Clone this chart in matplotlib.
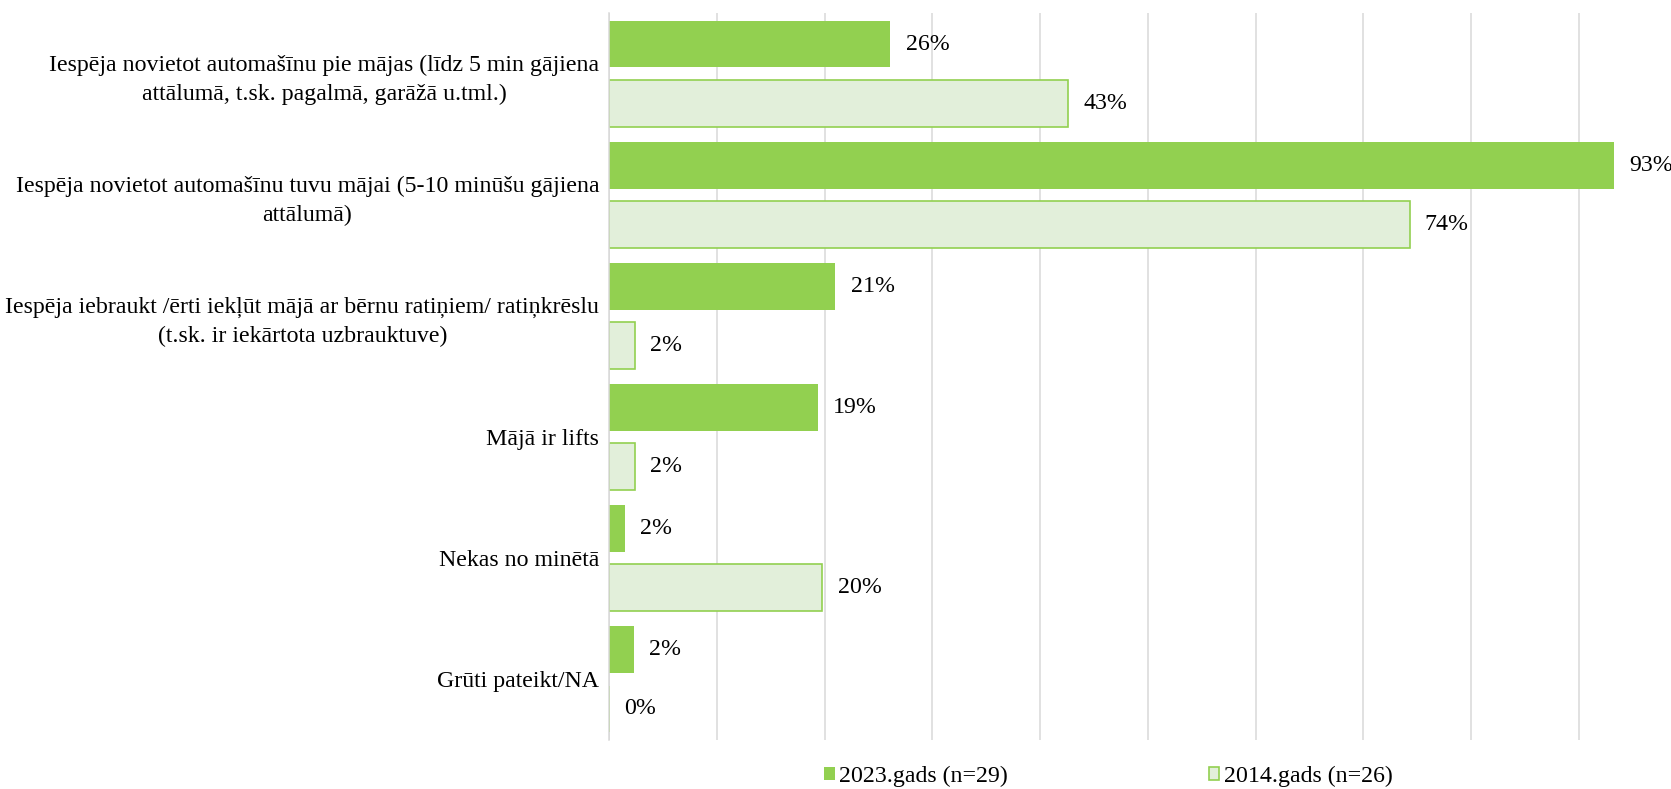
import numpy as np
import matplotlib
matplotlib.use("Agg")
import matplotlib.pyplot as plt
from matplotlib.patches import Patch

# data
categories = [
    "Iespēja novietot automašīnu pie mājas (līdz 5 min gājiena\nattālumā, t.sk. pagalmā, garāžā u.tml.)",
    "Iespēja novietot automašīnu tuvu mājai (5-10 minūšu gājiena\nattālumā)",
    "Iespēja iebraukt /ērti iekļūt mājā ar bērnu ratiņiem/ ratiņkrēslu\n(t.sk. ir iekārtota uzbrauktuve)",
    "Mājā ir lifts",
    "Nekas no minētā",
    "Grūti pateikt/NA",
]
series_names = ["2023.gads (n=29)", "2014.gads (n=26)"]
values_2023 = [26.1, 93.3, 21.0, 19.4, 1.5, 2.3]
values_2014 = [42.6, 74.3, 2.4, 2.4, 19.8, 0.0]

green = "#92D050"
light_green = "#E2EFDA"
grid_gray = "#D9D9D9"

plt.rcParams["font.family"] = ["Liberation Serif", "DejaVu Serif"]
fs = 17.2

fig = plt.figure(figsize=(16.71, 7.89), dpi=100)
ax = fig.add_axes([609 / 1671, 1 - 740 / 789, 1077.5 / 1671, 727 / 789])

y = np.arange(len(categories))
h = 0.387
off = 0.244

b1 = ax.barh(y - off, values_2023, height=h, color=green, edgecolor="none")
b2 = ax.barh(y + off, values_2014, height=h, color=light_green, edgecolor=green, linewidth=1.2)

ax.bar_label(b1, labels=["{:.0f}%".format(v) for v in values_2023], padding=11, fontsize=fs, clip_on=False)
ax.bar_label(b2, labels=["{:.0f}%".format(v) for v in values_2014], padding=11, fontsize=fs, clip_on=False)

ax.set_xlim(0, 100)
ax.set_ylim(len(categories) - 0.5, -0.5)
ax.set_xticks(np.arange(0, 101, 10))
ax.set_xticklabels([])
ax.tick_params(axis="x", length=0)
ax.tick_params(axis="y", length=0, pad=7)
ax.set_yticks(y)
ax.set_yticklabels(categories, fontsize=fs)
for lab in ax.get_yticklabels():
    lab.set_multialignment("center")
    lab.set_linespacing(1.45)

ax.xaxis.grid(True, color=grid_gray, linewidth=1.1)
ax.set_axisbelow(True)
for s in ["top", "right", "bottom"]:
    ax.spines[s].set_visible(False)
ax.spines["left"].set_color(grid_gray)
ax.spines["left"].set_linewidth(1.1)

handles = [
    Patch(facecolor=green, edgecolor="none"),
    Patch(facecolor=light_green, edgecolor=green, linewidth=1.2),
]
fig.legend(handles, series_names, loc="center left", bbox_to_anchor=(0.493, 0.016),
           ncol=2, frameon=False, fontsize=fs, handlelength=0.45, handleheight=0.45,
           handletextpad=0.2, columnspacing=8.4, borderpad=0, borderaxespad=0)

fig.savefig("out.png", dpi=100)
